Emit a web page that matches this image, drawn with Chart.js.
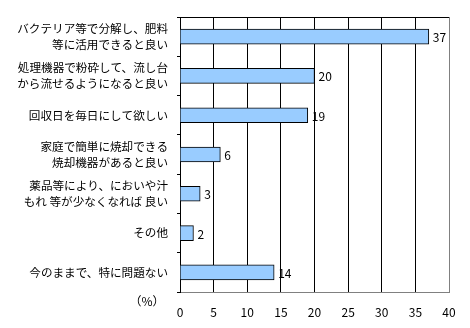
<!DOCTYPE html>
<html>
<head>
<meta charset="utf-8">
<script src="https://cdn.jsdelivr.net/npm/chart.js@4"></script>
<style>
  html, body { margin: 0; padding: 0; background: #fff; }
  #wrap { width: 470px; height: 328px; position: relative; }
</style>
</head>
<body>
<div id="wrap"><canvas id="bar-chart"></canvas></div>
<script>
// categories (two-line labels split into arrays)
var categories = [
  ["バクテリア等で分解し、肥料", "等に活用できると良い"],
  ["処理機器で粉砕して、流し台", "から流せるようになると良い"],
  "回収日を毎日にして欲しい",
  ["家庭で簡単に焼却できる", "焼却機器があると良い"],
  ["薬品等により、においや汁", "もれ 等が少なくなれば 良い"],
  "その他",
  "今のままで、特に問題ない"
];
var percents = [37, 20, 19, 6, 3, 2, 14];
var xTicks = [0, 5, 10, 15, 20, 25, 30, 35, 40];
var unitLabel = "（%）";

var fontFamily = "'Noto Sans CJK JP', 'DejaVu Sans', sans-serif";

// values at the end of each bar, frame and unit label
var extras = {
  id: 'extras',
  afterDatasetsDraw: function (chart) {
    var ctx = chart.ctx;
    var area = chart.chartArea;
    ctx.save();
    ctx.font = "12px " + fontFamily;
    ctx.fillStyle = "#000";
    ctx.textAlign = "left";
    ctx.textBaseline = "middle";
    chart.getDatasetMeta(0).data.forEach(function (bar, i) {
      ctx.fillText(String(percents[i]), bar.x + 4, bar.y + 1);
    });

    // top border
    ctx.strokeStyle = "#000";
    ctx.lineWidth = 1;
    ctx.beginPath();
    ctx.moveTo(area.left, area.top + 0.5);
    ctx.lineTo(area.right, area.top + 0.5);
    ctx.stroke();

    // unit label under the category axis
    ctx.textAlign = "center";
    ctx.fillText(unitLabel, 147, 301);
    ctx.restore();
  }
};

var ctx = document.getElementById("bar-chart");

var chartData = {
  labels: categories,
  datasets: [{
    data: percents,
    backgroundColor: "#99CCFF",
    borderColor: "#000",
    borderWidth: 1,
    barThickness: 15
  }]
};

var chartOptions = {
  indexAxis: 'y',
  responsive: true,
  maintainAspectRatio: false,
  animation: false,
  layout: { padding: { top: 10, right: 21, left: 0, bottom: 0 } },
  plugins: {
    legend: { display: false },
    tooltip: { enabled: false }
  },
  scales: {
    x: {
      min: 0,
      max: 40,
      afterBuildTicks: function (scale) {
        scale.ticks = xTicks.map(function (v) { return { value: v }; });
      },
      afterFit: function (scale) { scale.height = 36; },
      grid: {
        color: function (c) { return c.tick && c.tick.value === 40 ? "#808080" : "#000"; },
        drawTicks: false
      },
      border: { color: "#808080" },
      ticks: {
        color: "#000",
        padding: 13,
        font: { family: fontFamily, size: 12 },
        maxRotation: 0
      }
    },
    y: {
      afterFit: function (scale) { scale.width = 180; },
      grid: {
        drawOnChartArea: false,
        drawTicks: true,
        tickLength: 3,
        color: "#000"
      },
      border: { color: "#000" },
      ticks: {
        color: "#000",
        padding: 9,
        font: { family: fontFamily, size: 11.6, lineHeight: 1.38 }
      }
    }
  }
};

var barChart = new Chart(ctx, {
  type: 'bar',
  data: chartData,
  options: chartOptions,
  plugins: [extras]
});
</script>
</body>
</html>
